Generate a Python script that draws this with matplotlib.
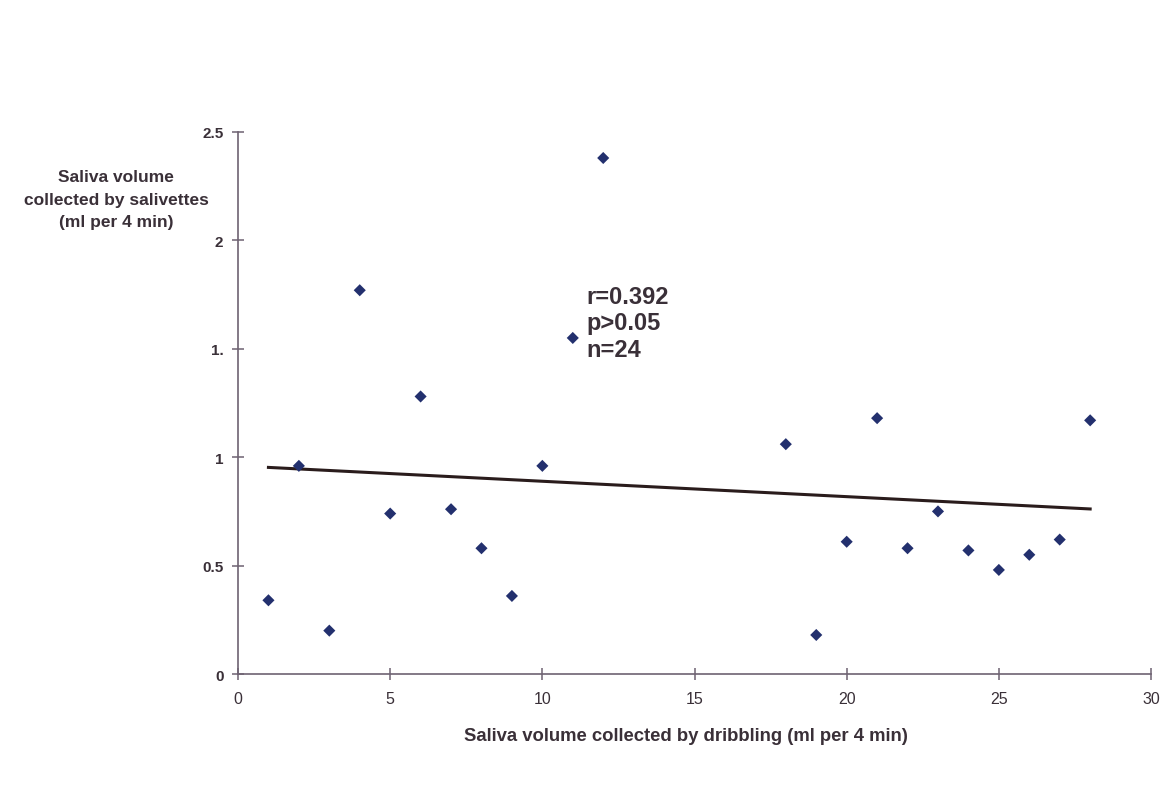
import numpy as np
import matplotlib
matplotlib.use('Agg')
import matplotlib.pyplot as plt

# dribbling volume (x) vs salivette volume (y), ml per 4 min
dribbling = [1, 2, 3, 4, 5, 6, 7, 8, 9, 10, 11, 12,
             18, 19, 20, 21, 22, 23, 24, 25, 26, 27, 28]
salivette = [0.34, 0.96, 0.20, 1.77, 0.74, 1.28, 0.76, 0.58, 0.36, 0.96, 1.55, 2.38,
             1.06, 0.18, 0.61, 1.18, 0.58, 0.75, 0.57, 0.48, 0.55, 0.62, 1.17]

# fitted line as printed on the chart
trend_intercept = 0.960
trend_slope = -0.0071

stats_text = "r=0.392\np>0.05\nn=24"
xticks = [0, 5, 10, 15, 20, 25, 30]
yticks = [0, 0.5, 1, 1.5, 2, 2.5]
ytick_labels = ['0', '0.5', '1', '1.', '2', '2.5']

plt.rcParams['font.family'] = ['Liberation Sans', 'DejaVu Sans']
txt = '#3a3038'
axis_col = '#6e6272'

fig = plt.figure(figsize=(11.65, 8.03), dpi=100)
ax = fig.add_axes([0.2043, 0.1594, 0.7837, 0.675])

ax.scatter(dribbling, salivette, marker='D', s=38, color='#23306e',
           edgecolors='none', zorder=3)

xs = np.array([min(dribbling), max(dribbling)])
ax.plot(xs, trend_intercept + trend_slope * xs, color='#2a1c1c', lw=2.2, zorder=2)

ax.set_xlim(0, 30)
ax.set_ylim(0, 2.5)
ax.set_xticks(xticks)
ax.set_yticks(yticks)
ax.set_yticklabels(ytick_labels)

for s in ('top', 'right'):
    ax.spines[s].set_visible(False)
for s in ('left', 'bottom'):
    ax.spines[s].set_color(axis_col)
    ax.spines[s].set_linewidth(1.2)
ax.tick_params(direction='inout', length=9, width=1.1, color=axis_col)
ax.tick_params(axis='y', labelsize=11, labelcolor=txt, pad=6)
ax.tick_params(axis='x', labelsize=11.5, labelcolor=txt, pad=8)
for lab in ax.get_yticklabels():
    lab.set_fontweight('bold')

ax.set_xlabel('Saliva volume collected by dribbling (ml per 4 min)',
              fontsize=13.3, fontweight='bold', color=txt)
ax.xaxis.set_label_coords(0.4907, -0.097)
fig.text(116 / 1165, 1 - 200 / 803,
         'Saliva volume\ncollected by salivettes\n(ml per 4 min)',
         ha='center', va='center', fontsize=12.5, fontweight='bold',
         color=txt, linespacing=1.6)

ax.text(11.45, 1.795, stats_text, ha='left', va='top', fontsize=17,
        fontweight='bold', color=txt, linespacing=1.2)

fig.savefig('out.png', dpi=100, facecolor='white')
